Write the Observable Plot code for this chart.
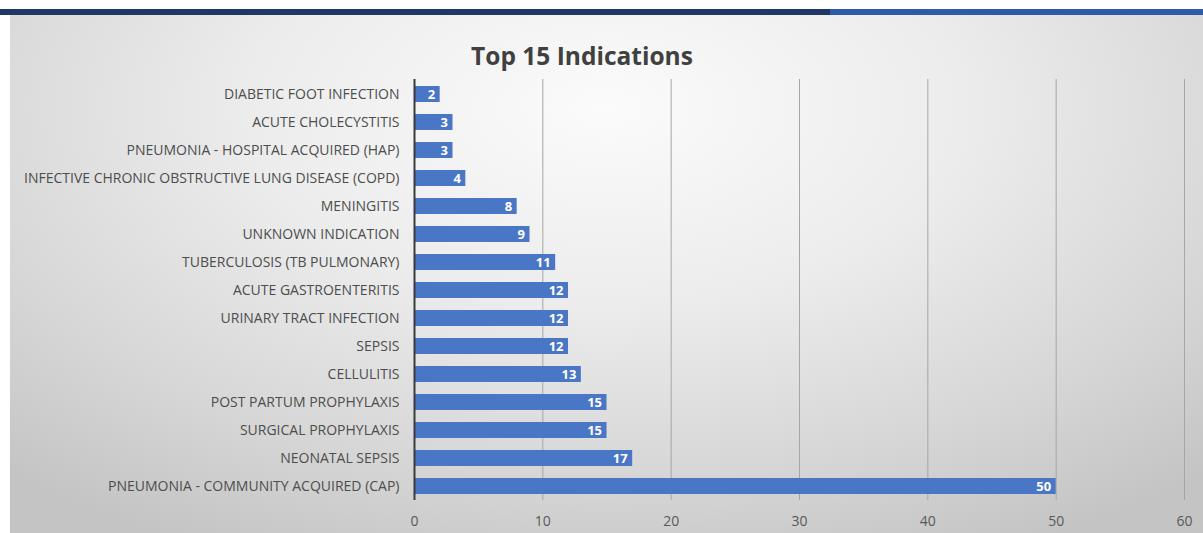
<!DOCTYPE html>
<html>
<head>
<meta charset="utf-8">
<script src="https://cdn.jsdelivr.net/npm/d3@7"></script>
<script src="https://cdn.jsdelivr.net/npm/@observablehq/plot@0.6"></script>
<style>
  html, body { margin: 0; padding: 0; background: #fff; }
  #wrap { position: relative; width: 1203px; height: 533px; overflow: hidden; font-family: "Open Sans", sans-serif; }
  #bandL { position: absolute; left: 0; top: 9px; width: 830px; height: 6px; background: #1f3864; }
  #bandR { position: absolute; left: 830px; top: 9px; width: 373px; height: 6px; background: #2f5aa6; }
  #bg { position: absolute; left: 10px; top: 15px; width: 1193px; height: 518px;
        background: radial-gradient(ellipse 75% 95% at 50% 18%, #fbfbfb 0%, #ececec 40%, #d6d6d6 75%, #c4c4c4 100%); }
  #title { position: absolute; left: 0; width: 1164px; top: 39px; text-align: center; font-size: 24.5px; font-weight: 700; color: #404040; font-family: "Open Sans", sans-serif; }
  #chart { position: absolute; left: 0; top: 0; }
  #chart svg { background: transparent !important; }
</style>
</head>
<body>
<div id="wrap">
  <div id="bandL"></div><div id="bandR"></div>
  <div id="bg"></div>
  <div id="title">Top 15 Indications</div>
  <div id="chart"></div>
</div>
<script>
const categories = [
  "DIABETIC FOOT INFECTION",
  "ACUTE CHOLECYSTITIS",
  "PNEUMONIA - HOSPITAL ACQUIRED (HAP)",
  "INFECTIVE CHRONIC OBSTRUCTIVE LUNG DISEASE (COPD)",
  "MENINGITIS",
  "UNKNOWN INDICATION",
  "TUBERCULOSIS (TB PULMONARY)",
  "ACUTE GASTROENTERITIS",
  "URINARY TRACT INFECTION",
  "SEPSIS",
  "CELLULITIS",
  "POST PARTUM PROPHYLAXIS",
  "SURGICAL PROPHYLAXIS",
  "NEONATAL SEPSIS",
  "PNEUMONIA - COMMUNITY ACQUIRED (CAP)"
];
const values = [2, 3, 3, 4, 8, 9, 11, 12, 12, 12, 13, 15, 15, 17, 50];
const xTicks = [0, 10, 20, 30, 40, 50, 60];
const gridTicks = [10, 20, 30, 40, 50, 60];

const data = categories.map((c, i) => ({ name: c, value: values[i] }));

const chart = Plot.plot({
  width: 1203,
  height: 533,
  marginLeft: 414,
  marginRight: 19,
  marginTop: 79,
  marginBottom: 33,
  style: { background: "transparent", fontFamily: "Open Sans, sans-serif" },
  x: { domain: [0, 60], label: null, axis: null },
  y: { domain: categories, paddingInner: 0.43, paddingOuter: 0.215, label: null, axis: null },
  marks: [
    Plot.ruleX(gridTicks, { stroke: "#a6a6a6", strokeWidth: 1 }),
    Plot.barX(data, { x: "value", y: "name", fill: "#4a76c6" }),
    Plot.ruleX([0], { stroke: "#3a3a3a", strokeWidth: 2 }),
    Plot.text(data, { x: "value", y: "name", text: d => String(d.value), textAnchor: "end", dx: -5, fill: "white", fontWeight: 700, fontSize: 13 }),
    Plot.axisY({ tickSize: 0, tickPadding: 15, fontSize: 14, color: "#4d4d4d", label: null }),
    Plot.axisX({ ticks: xTicks, tickSize: 0, tickPadding: 16, fontSize: 14, color: "#595959", label: null })
  ]
});
document.getElementById("chart").appendChild(chart);
</script>
</body>
</html>
